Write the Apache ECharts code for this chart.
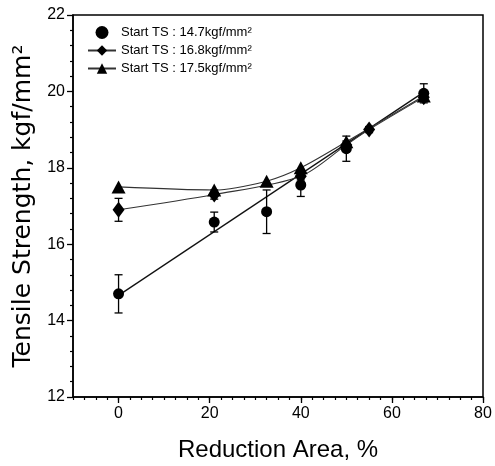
<!DOCTYPE html>
<html>
<head>
<meta charset="utf-8">
<script src="https://cdn.jsdelivr.net/npm/echarts@6/dist/echarts.min.js"></script>
<style>
  html, body { margin: 0; padding: 0; background: #fff; }
  #main { width: 495px; height: 466px; }
</style>
</head>
<body>
<div id="main"></div>
<script>
// Start TS 14.7 (circles) - with linear fit
const circleX = [0, 21, 32.5, 40, 50, 67];
const circleY = [14.7, 16.58, 16.85, 17.55, 18.5, 19.95];
const circleErr = [0.5, 0.26, 0.57, 0.3, 0.33, 0.25];
const fitX = [0, 67];
const fitY = [14.66, 19.98];

// Start TS 16.8 (diamonds)
const diamondX = [0, 21, 40, 50, 55, 67];
const diamondY = [16.9, 17.3, 17.78, 18.6, 19.0, 19.85];
const diamondErr = [0.3, 0.12, 0.1, 0.1, 0.08, 0.1];

// Start TS 17.5 (triangles)
const triangleX = [0, 21, 32.5, 40, 50, 67];
const triangleY = [17.5, 17.42, 17.65, 18.0, 18.68, 19.88];

const xTicks = [0, 20, 40, 60, 80];

const names = [
  'Start TS : 14.7kgf/mm²',
  'Start TS : 16.8kgf/mm²',
  'Start TS : 17.5kgf/mm²'
];

const zip = (xs, ys) => xs.map((x, i) => [x, ys[i]]);
const errRows = (xs, ys, es) => xs.map((x, i) => [x, ys[i] - es[i], ys[i] + es[i]]);

const FONT = "'Liberation Sans', Arial, sans-serif";

function errorBars(params, api) {
  const x = api.value(0);
  const top = api.coord([x, api.value(2)]);
  const bot = api.coord([x, api.value(1)]);
  const w = 4;
  const style = { stroke: '#000', lineWidth: 1.3 };
  return {
    type: 'group',
    children: [
      { type: 'line', shape: { x1: top[0], y1: top[1], x2: bot[0], y2: bot[1] }, style },
      { type: 'line', shape: { x1: top[0] - w, y1: top[1], x2: top[0] + w, y2: top[1] }, style },
      { type: 'line', shape: { x1: bot[0] - w, y1: bot[1], x2: bot[0] + w, y2: bot[1] }, style }
    ]
  };
}

const chart = echarts.init(document.getElementById('main'));
chart.setOption({
  animation: false,
  backgroundColor: '#fff',
  grid: {
    left: 73, right: 12, top: 15, bottom: 69,
    outerBoundsMode: 'none',
    show: true, borderColor: '#000', borderWidth: 1.5
  },
  legend: {
    orient: 'vertical',
    left: 82, top: 21,
    itemWidth: 28, itemHeight: 13, itemGap: 5,
    data: names,
    textStyle: { fontFamily: FONT, fontSize: 13, color: '#000' }
  },
  xAxis: [
    {
      type: 'value',
      min: -10, max: 80,
      name: 'Reduction Area, %',
      nameLocation: 'middle',
      nameGap: 41,
      nameTextStyle: { fontFamily: FONT, fontSize: 24, color: '#000' },
      axisLine: { show: true, onZero: false, lineStyle: { color: '#000', width: 1.5 } },
      axisTick: { show: true, inside: false, length: 6, customValues: xTicks, lineStyle: { color: '#000', width: 1.3 } },
      axisLabel: { fontFamily: FONT, fontSize: 16, color: '#000', margin: 9, customValues: xTicks },
      splitLine: { show: false }
    },
    {
      // minor ticks every 2.5
      type: 'value',
      min: -10, max: 80, interval: 2.5,
      position: 'bottom',
      axisLine: { show: false, onZero: false },
      axisTick: { show: true, inside: false, length: 3, lineStyle: { color: '#000', width: 1.2 } },
      axisLabel: { show: false },
      splitLine: { show: false }
    }
  ],
  yAxis: {
    type: 'value',
    min: 12, max: 22, interval: 2,
    name: 'Tensile Strength, kgf/mm²',
    nameLocation: 'middle',
    nameGap: 26,
    nameTextStyle: { fontFamily: "'DejaVu Sans', sans-serif", fontSize: 25, color: '#000' },
    axisLine: { show: true, onZero: false, lineStyle: { color: '#000', width: 1.5 } },
    axisTick: { show: true, inside: false, length: 6, lineStyle: { color: '#000', width: 1.3 } },
    minorTick: { show: true, splitNumber: 5, length: 3, lineStyle: { color: '#000', width: 1.2 } },
    axisLabel: { fontFamily: FONT, fontSize: 16, color: '#000', margin: 8 },
    splitLine: { show: false }
  },
  series: [
    {
      name: 'fit',
      type: 'line',
      data: zip(fitX, fitY),
      showSymbol: false,
      lineStyle: { color: '#111', width: 1.3 },
      silent: true, z: 1
    },
    {
      type: 'custom',
      renderItem: errorBars,
      data: errRows(diamondX, diamondY, diamondErr),
      encode: { x: 0, y: [1, 2] },
      z: 2
    },
    {
      type: 'custom',
      renderItem: errorBars,
      data: errRows(circleX, circleY, circleErr),
      encode: { x: 0, y: [1, 2] },
      z: 2
    },
    {
      name: names[0],
      type: 'scatter',
      data: zip(circleX, circleY),
      symbol: 'circle',
      symbolSize: 11,
      itemStyle: { color: '#000', opacity: 1 },
      z: 5
    },
    {
      name: names[1],
      type: 'line',
      data: zip(diamondX, diamondY),
      smooth: 0.3,
      symbol: 'diamond',
      symbolSize: [12, 16],
      itemStyle: { color: '#000' },
      lineStyle: { color: '#333', width: 1.1 },
      z: 4
    },
    {
      name: names[2],
      type: 'line',
      data: zip(triangleX, triangleY),
      smooth: 0.3,
      symbol: 'triangle',
      symbolSize: [14, 13],
      itemStyle: { color: '#000' },
      lineStyle: { color: '#333', width: 1.1 },
      z: 4
    }
  ]
});
</script>
</body>
</html>
